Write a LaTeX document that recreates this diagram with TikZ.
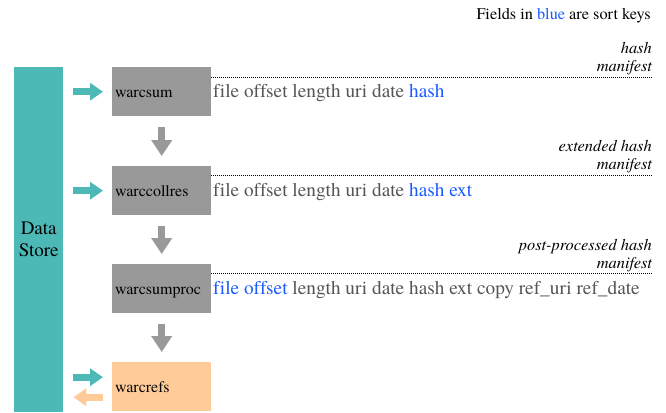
\documentclass[tikz,border=0pt]{standalone}
\usepackage{fontspec}
\setmainfont{TeX Gyre Termes}[Ligatures=NoCommon]
\usetikzlibrary{arrows.meta}
\definecolor{dsteal}{RGB}{76,185,182}
\definecolor{boxgray}{RGB}{153,153,153}
\definecolor{refsorange}{RGB}{255,204,153}
\definecolor{keyblue}{RGB}{26,90,255}
\definecolor{fieldgray}{RGB}{85,85,85}
\begin{document}
\begin{tikzpicture}[x=1pt,y=-1pt,
 box/.style={fill=boxgray, minimum width=99pt, minimum height=49pt, anchor=north west, inner sep=0pt},
 lbl/.style={anchor=base west, font=\fontsize{16}{18}\selectfont, inner sep=0pt},
 fields/.style={anchor=base west, font=\fontsize{19.3}{22}\selectfont, text=fieldgray, inner sep=0pt},
 ital/.style={anchor=base east, font=\fontsize{16.4}{18}\selectfont\itshape, inner sep=0pt},
 sep/.style={line width=0.8pt, dash pattern=on 1pt off 1pt},
 downarr/.style={draw=boxgray, line width=7pt, -{Triangle[width=20pt,length=16pt]}},
 inarr/.style={draw=dsteal, line width=7pt, -{Triangle[width=17pt,length=13pt]}},
 outarr/.style={draw=refsorange, line width=7pt, -{Triangle[width=17pt,length=13pt]}},
]
\useasboundingbox (0,0) rectangle (666,412);

\node[anchor=base east, font=\fontsize{16.3}{18}\selectfont, inner sep=0pt] (hdr) at (651,20) {Fields in \textcolor{keyblue}{blue} are sort keys};

\node[fill=dsteal, minimum width=49pt, minimum height=345pt, anchor=north west, inner sep=0pt, align=center, font=\fontsize{19}{22}\selectfont] (ds) at (14,67) {Data\\Store};

\node[box] (b1) at (112,67) {};
\node[box] (b2) at (112,166) {};
\node[box] (b3) at (112,264) {};
\node[box, fill=refsorange] (b4) at (112,362) {};

\node[lbl] (t1) at (115,97.5) {warcsum};
\node[lbl] (t2) at (115,196.5) {warccollres};
\node[lbl] (t3) at (115,294.5) {warcsumproc};
\node[lbl] (t4) at (115,392.5) {warcrefs};

\node[fields] (f1) at (213,97.5) {file offset length uri date \textcolor{keyblue}{hash}};
\node[fields] (f2) at (213,196.5) {file offset length uri date \textcolor{keyblue}{hash ext}};
\node[fields] (f3) at (213,294.5) {\textcolor{keyblue}{file offset} length uri date hash ext copy ref\_uri ref\_date};

\coordinate (e1) at (653,77);
\coordinate (e2) at (653,175);
\coordinate (e3) at (653,273);
\draw[sep] (b1.north east |- e1) -- (e1);
\draw[sep] (b2.north east |- e2) -- (e2);
\draw[sep] (b3.north east |- e3) -- (e3);

\node[ital] (h1a) at (652,53) {hash};
\node[ital] (h1b) at (652,71) {manifest};
\node[ital] (h2a) at (652,151) {extended hash};
\node[ital] (h2b) at (652,169) {manifest};
\node[ital] (h3a) at (652,250) {post-processed hash};
\node[ital] (h3b) at (652,268) {manifest};

\draw[downarr, shorten <=11pt, shorten >=10pt] (b1.south) -- (b2.north);
\draw[downarr, shorten <=11pt, shorten >=10pt] (b2.south) -- (b3.north);
\draw[downarr, shorten <=11pt, shorten >=10pt] (b3.south) -- (b4.north);

\draw[inarr, shorten <=10pt, shorten >=9pt] (ds.east |- b1.west) -- (b1.west);
\draw[inarr, shorten <=10pt, shorten >=9pt] (ds.east |- b2.west) -- (b2.west);
\coordinate (r1) at ([yshift=9.5pt]b4.west);
\coordinate (r2) at ([yshift=-10.5pt]b4.west);
\draw[inarr, shorten <=10pt, shorten >=9pt] (ds.east |- r1) -- (r1);
\draw[outarr, shorten <=9pt, shorten >=10pt] (r2) -- (ds.east |- r2);
\end{tikzpicture}
\end{document}
